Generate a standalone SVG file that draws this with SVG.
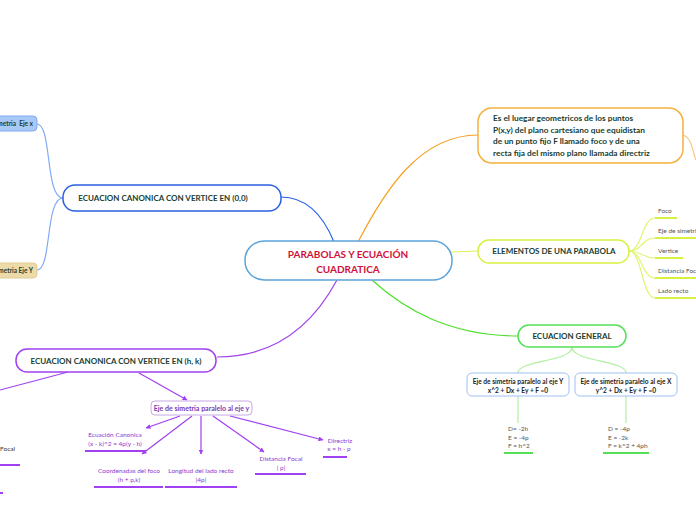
<svg xmlns="http://www.w3.org/2000/svg" width="696" height="520" viewBox="0 0 696 520">
<defs>
<marker id="arr" viewBox="0 0 10 10" refX="9" refY="5" markerWidth="5" markerHeight="5" orient="auto" markerUnits="userSpaceOnUse">
<path d="M0,0 L10,5 L0,10 z" fill="#a040f0"/>
</marker>
<style>
text{font-family:Lato,"Open Sans","Liberation Sans",sans-serif}
.b{font-weight:bold}
.dk{fill:#1a4030}
.main{font-size:8px;font-weight:bold;fill:#1a4030;text-anchor:middle}
.sm{font-size:6.5px;fill:#555}
.pt{font-size:6.5px;fill:#8a3ad0;text-anchor:middle}
.c{fill:none;stroke-width:1.2}
.ul{stroke-width:2;fill:none}
</style>
</defs>
<rect width="696" height="520" fill="#fff"/>

<g id="connectors">
<path class="c" d="M281,197 C310,197 325,220 334,242" stroke="#2060e8"/>
<path class="c" d="M358,242 C385,190 420,135 478,135" stroke="#f5a020"/>
<path class="c" d="M452,252 L478,251" stroke="#e0f050"/>
<path class="c" d="M372,280 C405,310 450,336 519,336" stroke="#50e030"/>
<path class="c" d="M337,280 C310,330 270,357 217,357" stroke="#a040f0"/>
<path class="c" d="M63,198 C45,198 52,124 37,124" stroke="#80aaf5"/>
<path class="c" d="M63,198 C45,198 52,270 37,270" stroke="#80aaf5"/>
<path class="c" d="M683,135 C692,138 692,150 696,160" stroke="#fcc880"/>
<g stroke="#e0f570" class="c">
<path d="M629,251 C642,251 642,218 655,218"/>
<path d="M629,251 C642,251 642,238 655,238"/>
<path d="M629,251 C642,251 642,258 655,258"/>
<path d="M629,251 C642,251 642,278 655,278"/>
<path d="M629,251 C642,251 642,298 655,298"/>
</g>
<g stroke="#b0f0a0" class="c">
<path d="M572,347 C572,362 518,360 518,373"/>
<path d="M572,347 C572,362 626,360 626,373"/>
<path d="M518,396 L518,423"/>
<path d="M626,396 L626,423"/>
</g>
<g stroke="#a040f0" class="c">
<path d="M68,372 L0,390"/>
<path d="M139,373 L187,400" marker-end="url(#arr)"/>
<path d="M180,416 L146,428" marker-end="url(#arr)"/>
<path d="M192,416 L142,454" marker-end="url(#arr)"/>
<path d="M201,416 L201,454" marker-end="url(#arr)"/>
<path d="M213,416 L264,452" marker-end="url(#arr)"/>
<path d="M230,416 L323,440" marker-end="url(#arr)"/>
</g>
</g>

<g id="center">
<rect x="245" y="241" width="207" height="39" rx="19" fill="#fff" stroke="#5ba3d9" stroke-width="1.5"/>
<text x="348" y="258" text-anchor="middle" class="b" font-size="10" fill="#d0103a">PARABOLAS Y ECUACIÓN</text>
<text x="348" y="273" text-anchor="middle" class="b" font-size="10" fill="#d0103a">CUADRATICA</text>
</g>

<g id="canonica00">
<rect x="63" y="185" width="218" height="26" rx="12" fill="#fff" stroke="#2b60e0" stroke-width="1.5"/>
<text x="163" y="201" class="main" font-size="7.6">ECUACION CANONICA CON VERTICE EN (0,0)</text>
</g>

<g id="ejex">
<rect x="-20" y="116" width="57" height="15" rx="4" fill="#a8c8f5" stroke="#80aaf5"/>
<text x="33" y="126" text-anchor="end" class="b dk" font-size="6.5">metria&#160; Eje x</text>
</g>

<g id="ejey">
<rect x="-20" y="263" width="57" height="15" rx="4" fill="#ecdaa8" stroke="#e2cc92"/>
<text x="33" y="273" text-anchor="end" class="b dk" font-size="6.5">metria Eje Y</text>
</g>

<g id="definicion">
<rect x="478" y="108" width="205" height="55" rx="14" fill="#fff" stroke="#f5b040" stroke-width="1.5"/>
<text x="493" y="121" class="b dk" font-size="8.3">Es el luegar geometricos de los puntos</text>
<text x="493" y="132.5" class="b dk" font-size="8.3">P(x,y) del plano cartesiano que equidistan</text>
<text x="493" y="144" class="b dk" font-size="8.3">de un punto fijo F llamado foco y de una</text>
<text x="493" y="155.5" class="b dk" font-size="8.3">recta fija del mismo plano llamada directriz</text>
</g>

<g id="elementos">
<rect x="478" y="240" width="151" height="23" rx="11" fill="#fff" stroke="#d8f040" stroke-width="1.5"/>
<text x="554" y="254" class="main">ELEMENTOS DE UNA PARABOLA</text>
</g>
<g id="foco"><text x="658" y="213" class="sm">Foco</text><path class="ul" d="M655,218 H677" stroke="#d8f040"/></g>
<g id="eje"><text x="658" y="233" class="sm">Eje de simetria</text><path class="ul" d="M655,238 H696" stroke="#d8f040"/></g>
<g id="vertice"><text x="658" y="253" class="sm">Vertice</text><path class="ul" d="M655,258 H683" stroke="#d8f040"/></g>
<g id="distancia"><text x="658" y="273" class="sm">Distancia Focal</text><path class="ul" d="M655,278 H696" stroke="#d8f040"/></g>
<g id="lado"><text x="658" y="293" class="sm">Lado recto</text><path class="ul" d="M655,298 H696" stroke="#d8f040"/></g>

<g id="general">
<rect x="518" y="325" width="108" height="22" rx="11" fill="#fff" stroke="#55e055" stroke-width="1.5"/>
<text x="572" y="339" class="main">ECUACION GENERAL</text>
</g>

<g id="ejeY">
<rect x="467" y="373" width="102" height="23" rx="5" fill="#fff" stroke="#a0c0f0"/>
<text x="518" y="383.5" text-anchor="middle" class="b" font-size="6.6" fill="#222">Eje de simetria paralelo al eje Y</text>
<text x="518" y="392.5" text-anchor="middle" class="b" font-size="6.6" fill="#222">x^2 + Dx + Ey + F =0</text>
</g>
<g id="ejeX">
<rect x="575" y="373" width="102" height="23" rx="5" fill="#fff" stroke="#a0c0f0"/>
<text x="626" y="383.5" text-anchor="middle" class="b" font-size="6.6" fill="#222">Eje de simetria paralelo al eje X</text>
<text x="626" y="392.5" text-anchor="middle" class="b" font-size="6.6" fill="#222">y^2 + Dx + Ey + F =0</text>
</g>
<g id="coefY">
<text x="508" y="431" class="sm">D= -2h</text>
<text x="508" y="440" class="sm">E = -4p</text>
<text x="508" y="448" class="sm">F = h^2</text>
<path class="ul" d="M504,453 H533" stroke="#55e055"/>
</g>
<g id="coefX">
<text x="608" y="431" class="sm">D = -4p</text>
<text x="608" y="440" class="sm">E = -2k</text>
<text x="608" y="448" class="sm">F = k^2 + 4ph</text>
<path class="ul" d="M603,453 H649" stroke="#55e055"/>
</g>

<g id="canonicahk">
<rect x="16" y="349" width="200" height="23" rx="11" fill="#fff" stroke="#a040f0" stroke-width="1.5"/>
<text x="116" y="364" class="main">ECUACION CANONICA CON VERTICE EN (h, k)</text>
</g>

<g id="ejeparalelo">
<rect x="151" y="401" width="101" height="14" rx="4" fill="#fff" stroke="#c8a8e8"/>
<text x="201.5" y="410.5" text-anchor="middle" class="b" font-size="7" fill="#7a3ab0">Eje de simetria paralelo al eje y</text>
</g>
<g id="ecuacion">
<text x="115" y="437" class="pt">Ecuación Canonica</text>
<text x="115" y="446" class="pt">(x - k)^2 = 4p(y - h)</text>
<path class="ul" d="M85,451 H146" stroke="#a040f0"/>
</g>
<g id="coordenadas">
<text x="129" y="473" class="pt">Coordenadas del foco</text>
<text x="129" y="482" class="pt">(h + p,k)</text>
<path class="ul" d="M94,487 H163" stroke="#a040f0"/>
</g>
<g id="longitud">
<text x="201" y="473" class="pt">Longitud del lado recto</text>
<text x="201" y="482" class="pt">|4p|</text>
<path class="ul" d="M165,487 H237" stroke="#a040f0"/>
</g>
<g id="distfocal">
<text x="281" y="461" class="pt">Distancia Focal</text>
<text x="281" y="470" class="pt">| p|</text>
<path class="ul" d="M255,474 H306" stroke="#a040f0"/>
</g>
<g id="directriz">
<text x="340" y="443" class="pt">Directriz</text>
<text x="339" y="451" class="pt">x = h - p</text>
<path class="ul" d="M323,457 H347" stroke="#a040f0"/>
</g>
<g id="focal-left">
<text x="15" y="451" text-anchor="end" font-size="6.5" fill="#333">Focal</text>
<path class="ul" d="M0,465 H20" stroke="#a040f0"/>
<path class="ul" d="M0,493 H3" stroke="#a040f0"/>
</g>
</svg>
